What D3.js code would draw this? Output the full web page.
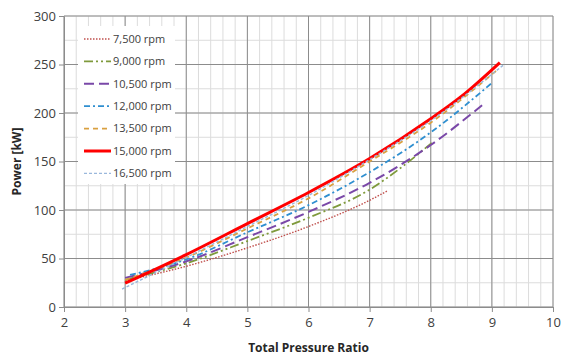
<!DOCTYPE html>
<html>
<head>
<meta charset="utf-8">
<script src="https://cdn.jsdelivr.net/npm/d3@7"></script>
<style>
body { margin: 0; background: #fff; }
text { font-family: "Open Sans", "Noto Sans", sans-serif; }
</style>
</head>
<body>
<div id="chart"></div>
<script>
// pressure ratio / power readings per speed line
var rpm7500 = [[3, 27], [4, 42], [5, 61], [6, 83], [7, 110], [7.3, 120]]
var rpm9000 = [[3, 28], [4, 45], [5, 68], [6, 92], [7, 121], [7.5, 143], [8.05, 171]]
var rpm10500 = [[3, 30], [4, 47], [5, 72], [6, 98], [7, 128], [8, 167], [8.84, 208]]
var rpm12000 = [[3.08, 33], [4, 49], [5, 77], [6, 105], [7, 139], [8, 180], [9, 231]]
var rpm13500 = [[3, 28], [4, 51], [5, 81], [6, 112], [7, 150], [8, 190], [9.08, 244]]
var rpm15000 = [[3, 24.5], [4, 54], [5, 86], [6, 118], [7, 153], [8, 194], [8.5, 217], [9.13, 252]]
var rpm16500 = [[2.95, 18.5], [4, 51], [5, 83], [6, 115], [7, 152], [8, 192], [9.2, 250]]

var seriesNames = ['7,500 rpm', '9,000 rpm', '10,500 rpm', '12,000 rpm', '13,500 rpm', '15,000 rpm', '16,500 rpm']
var seriesData = [rpm7500, rpm9000, rpm10500, rpm12000, rpm13500, rpm15000, rpm16500]
var xTicks = [2, 3, 4, 5, 6, 7, 8, 9, 10]
var yTicks = [0, 50, 100, 150, 200, 250, 300]

var styles = [
  {color: '#c0504d', width: 1.4, dash: '1.5,1.5'},
  {color: '#7f9a3c', width: 1.8, dash: '9,3,2,3,2,3'},
  {color: '#7a48a8', width: 2, dash: '10,5'},
  {color: '#2f8fd0', width: 1.8, dash: '6,3,2,3'},
  {color: '#d9a040', width: 1.8, dash: '5,4'},
  {color: '#ff0000', width: 3, dash: null},
  {color: '#9ab8dc', width: 1.4, dash: '3,2'}
]

var W = 567, H = 356
var margin = {top: 16, right: 14, bottom: 49, left: 64}

var svg = d3.select('#chart').append('svg')
  .attr('width', W)
  .attr('height', H)

var x = d3.scaleLinear().domain([2, 10]).range([margin.left, W - margin.right])
var y = d3.scaleLinear().domain([0, 300]).range([H - margin.bottom, margin.top])

// minor grid
svg.append('g').selectAll('line')
  .data(d3.range(2, 10.001, 0.2))
  .join('line')
  .attr('x1', d => x(d)).attr('x2', d => x(d))
  .attr('y1', y(0)).attr('y2', y(300))
  .attr('stroke', '#dcdcdc').attr('stroke-width', 1)
svg.append('g').selectAll('line')
  .data(d3.range(0, 300.001, 25))
  .join('line')
  .attr('x1', x(2)).attr('x2', x(10))
  .attr('y1', d => y(d)).attr('y2', d => y(d))
  .attr('stroke', '#dcdcdc').attr('stroke-width', 1)

// major grid
svg.append('g').selectAll('line')
  .data(xTicks)
  .join('line')
  .attr('x1', d => x(d)).attr('x2', d => x(d))
  .attr('y1', y(0)).attr('y2', y(300))
  .attr('stroke', '#8c8c8c').attr('stroke-width', 1)
svg.append('g').selectAll('line')
  .data(yTicks)
  .join('line')
  .attr('x1', x(2)).attr('x2', x(10))
  .attr('y1', d => y(d)).attr('y2', d => y(d))
  .attr('stroke', '#8c8c8c').attr('stroke-width', 1)

// axes
var xAxis = d3.axisBottom(x).tickValues(xTicks).tickSize(5).tickSizeOuter(0)
var yAxis = d3.axisLeft(y).tickValues(yTicks).tickSize(5).tickSizeOuter(0)

svg.append('g')
  .attr('transform', `translate(0,${y(0)})`)
  .call(xAxis)
  .call(g => g.select('.domain').attr('stroke', '#8c8c8c'))
  .call(g => g.selectAll('.tick line').attr('stroke', '#8c8c8c'))
  .call(g => g.selectAll('.tick text').attr('fill', '#404040').attr('font-size', 13).attr('dy', '0.9em'))

svg.append('g')
  .attr('transform', `translate(${x(2)},0)`)
  .call(yAxis)
  .call(g => g.select('.domain').attr('stroke', '#8c8c8c'))
  .call(g => g.selectAll('.tick line').attr('stroke', '#8c8c8c'))
  .call(g => g.selectAll('.tick text').attr('fill', '#404040').attr('font-size', 13).attr('x', -8))

// lines
var lineFunction = d3.line()
  .x(d => x(d[0]))
  .y(d => y(d[1]))
  .curve(d3.curveMonotoneX)

seriesData.forEach(function(data, i) {
  var s = styles[i]
  svg.append('path')
    .attr('d', lineFunction(data))
    .attr('fill', 'none')
    .attr('stroke', s.color)
    .attr('stroke-width', s.width)
    .attr('stroke-dasharray', s.dash)
})

// legend
var legend = svg.append('g')
legend.append('rect')
  .attr('x', 78).attr('y', 26)
  .attr('width', 97).attr('height', 158)
  .attr('fill', '#fff')

var rows = legend.selectAll('g.item')
  .data(seriesNames)
  .join('g')
  .attr('class', 'item')
  .attr('transform', (d, i) => `translate(84,${39 + i * 22.4})`)

rows.append('line')
  .attr('x1', 0).attr('x2', 27)
  .attr('stroke', (d, i) => styles[i].color)
  .attr('stroke-width', (d, i) => styles[i].width)
  .attr('stroke-dasharray', (d, i) => styles[i].dash)

rows.append('text')
  .attr('x', 29).attr('dy', '0.35em')
  .attr('font-size', 11)
  .attr('fill', '#404040')
  .text(d => d)

// titles
svg.append('text')
  .attr('x', (x(2) + x(10)) / 2).attr('y', 352)
  .attr('text-anchor', 'middle')
  .attr('font-size', 12).attr('font-weight', 'bold')
  .attr('fill', '#262626')
  .text('Total Pressure Ratio')

svg.append('text')
  .attr('transform', 'translate(21,' + y(150) + ') rotate(-90)')
  .attr('text-anchor', 'middle')
  .attr('font-size', 12).attr('font-weight', 'bold')
  .attr('fill', '#262626')
  .text('Power [kW]')
</script>
</body>
</html>
